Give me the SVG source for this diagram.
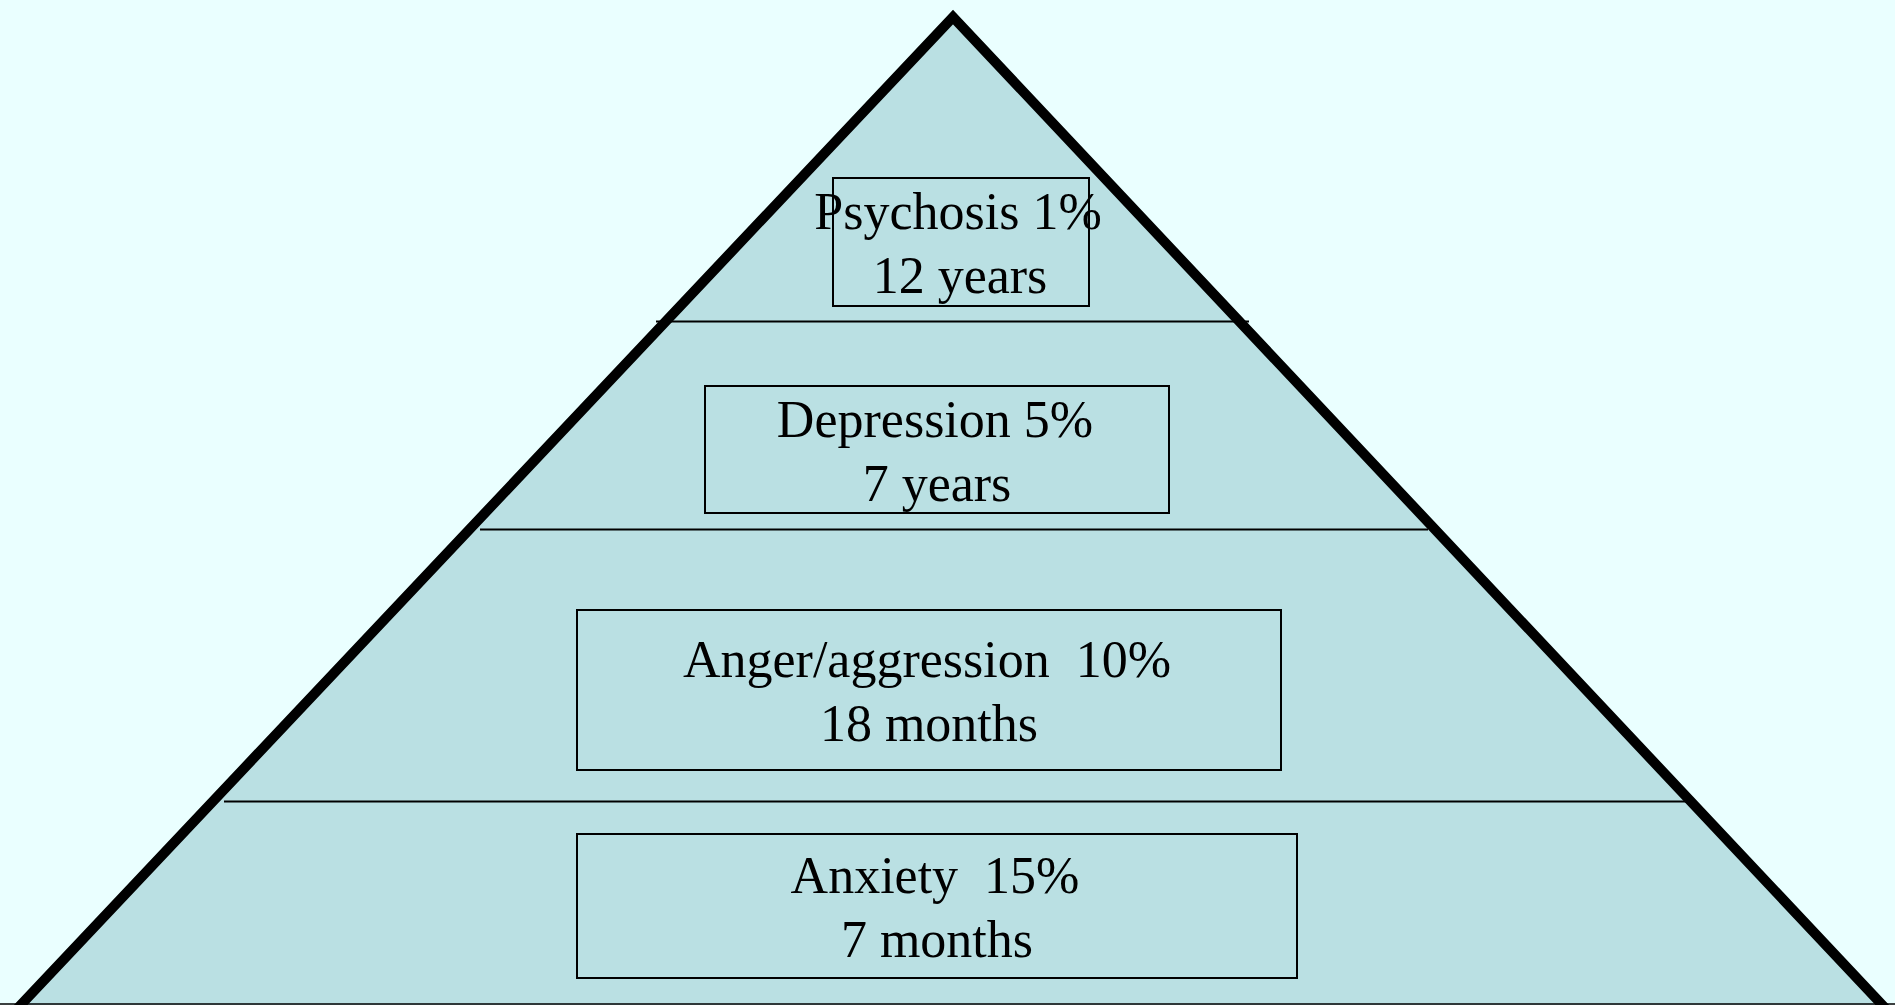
<svg xmlns="http://www.w3.org/2000/svg" width="1895" height="1005" viewBox="0 0 1895 1005">
<style>
.lbl{font-family:"Liberation Serif","Times New Roman",serif;font-size:52px;fill:#000;text-anchor:middle;white-space:pre}
.box{fill:none;stroke:#000;stroke-width:2}
.div{stroke:#000;stroke-width:2}
</style>
<rect x="0" y="0" width="1895" height="1005" fill="#EAFFFF"/>
<g id="pyramid">
<polygon points="953,17 16,1010 1887,1010" fill="#BAE0E3"/>
</g>
<g id="connectors">
<line class="div" x1="656" y1="321.5" x2="1249" y2="321.5"/>
<line class="div" x1="480" y1="529.5" x2="1428" y2="529.5"/>
<line class="div" x1="224" y1="801.5" x2="1686" y2="801.5"/>
<line x1="0" y1="1004" x2="1895" y2="1004" stroke="#000" stroke-width="1.5"/>
</g>
<g id="outline">
<polyline points="16,1010 953,17 1887,1010" fill="none" stroke="#000" stroke-width="10" stroke-miterlimit="10"/>
</g>
<g id="psychosis">
<rect class="box" x="833" y="178" width="256" height="128"/>
<text class="lbl" x="958" y="229">Psychosis 1%</text>
<text class="lbl" x="960" y="293">12 years</text>
</g>
<g id="depression">
<rect class="box" x="705" y="386" width="464" height="127"/>
<text class="lbl" x="935" y="437">Depression 5%</text>
<text class="lbl" x="937" y="501">7 years</text>
</g>
<g id="anger">
<rect class="box" x="577" y="610" width="704" height="160"/>
<text class="lbl" x="927" y="677">Anger/aggression  10%</text>
<text class="lbl" x="929" y="741">18 months</text>
</g>
<g id="anxiety">
<rect class="box" x="577" y="834" width="720" height="144"/>
<text class="lbl" x="935" y="893">Anxiety  15%</text>
<text class="lbl" x="937" y="957">7 months</text>
</g>
</svg>
